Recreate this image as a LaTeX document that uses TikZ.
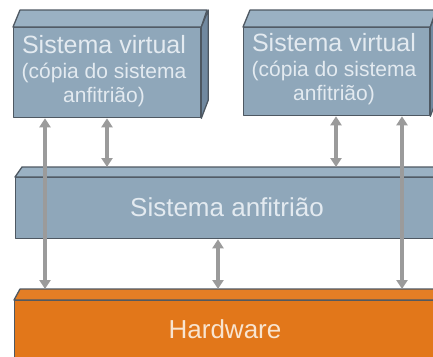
\documentclass[tikz,border=0pt]{standalone}
\usepackage{fontspec}
\setmainfont{Liberation Sans}
\usetikzlibrary{arrows.meta,calc}
\definecolor{slate}{HTML}{8FA7BA}
\definecolor{slatetop}{HTML}{9AB1C3}
\definecolor{slateside}{HTML}{7189A0}
\definecolor{edge}{HTML}{4E5862}
\definecolor{amber}{HTML}{E2771A}
\definecolor{ambertop}{HTML}{E47E25}
\definecolor{link}{HTML}{9B9B9B}
\definecolor{paletext}{HTML}{E3EAF0}
\definecolor{warmtext}{HTML}{F8E4D0}
\begin{document}
\begin{tikzpicture}[x=1pt,y=-1pt,
  face/.style={draw=edge, line width=1.3pt, line join=round},
  front/.style={face, rectangle, inner sep=0pt, anchor=north west},
  bigtext/.style={text=paletext, font=\fontsize{25}{27}\selectfont, anchor=base, inner sep=0pt},
  smalltext/.style={text=paletext, font=\fontsize{21}{24}\selectfont, anchor=base, inner sep=0pt},
  biarrow/.style={draw=link, line width=3.6pt,
    {Triangle[width=11pt,length=9pt]}-{Triangle[width=11pt,length=9pt]}}
]
\useasboundingbox (0,0) rectangle (433,356);

% hardware layer
\node[front, fill=amber, minimum width=426pt, minimum height=60pt] (hw) at (14,300) {};
\filldraw[face, fill=ambertop] (hw.north west) -- ++(6,-11) -- ++(426,0) -- (hw.north east) -- cycle;
\node[text=warmtext, font=\fontsize{26}{28}\selectfont, anchor=base, inner sep=0pt] (hwtext) at (225,338) {Hardware};

% host system layer
\node[front, fill=slate, minimum width=424pt, minimum height=61pt] (host) at (15,177) {};
\filldraw[face, fill=slatetop] (host.north west) -- ++(7,-10) -- ++(424,0) -- (host.north east) -- cycle;
\node[text=paletext, font=\fontsize{26}{28}\selectfont, anchor=base, inner sep=0pt] (hosttext) at (227,216) {Sistema anfitrião};

% first virtual system
\node[front, fill=slate, minimum width=187pt, minimum height=90pt] (vmA) at (13,27) {};
\filldraw[face, fill=slatetop] (vmA.north west) -- ++(7,-17) -- ++(187,0) -- (vmA.north east) -- cycle;
\filldraw[face, fill=slateside] (vmA.north east) -- ++(7,-17) -- ++(0,90) -- (vmA.south east) -- cycle;
\node[bigtext] (vmAa) at (104,53) {Sistema virtual};
\node[smalltext] (vmAb) at (104,78) {(cópia do sistema};
\node[smalltext] (vmAc) at (104,102) {anfitrião)};

% second virtual system
\node[front, fill=slate, minimum width=186pt, minimum height=88pt] (vmB) at (243,27) {};
\filldraw[face, fill=slatetop] (vmB.north west) -- ++(7,-17) -- ++(186,0) -- (vmB.north east) -- cycle;
\filldraw[face, fill=slateside] (vmB.north east) -- ++(7,-17) -- ++(0,88) -- (vmB.south east) -- cycle;
\node[bigtext] (vmBa) at (334,51) {Sistema virtual};
\node[smalltext] (vmBb) at (334,76) {(cópia do sistema};
\node[smalltext] (vmBc) at (334,100) {anfitrião)};

% upper edges of the lower layers' top faces
\coordinate (hosttop) at (22,167);
\coordinate (hwtop) at (20,289);
% arrow columns
\coordinate (ca) at (45,0);
\coordinate (cb) at (107,0);
\coordinate (cc) at (218,0);
\coordinate (cd) at (336,0);
\coordinate (ce) at (402,0);

\draw[biarrow] (ca |- vmA.south) -- (ca |- hwtop);
\draw[biarrow] (cb |- vmA.south) -- (cb |- hosttop);
\draw[biarrow] (cc |- host.south) -- (cc |- hwtop);
\draw[biarrow] (cd |- vmB.south) -- (cd |- hosttop);
\draw[biarrow] (ce |- vmB.south) -- (ce |- hwtop);
\end{tikzpicture}
\end{document}
